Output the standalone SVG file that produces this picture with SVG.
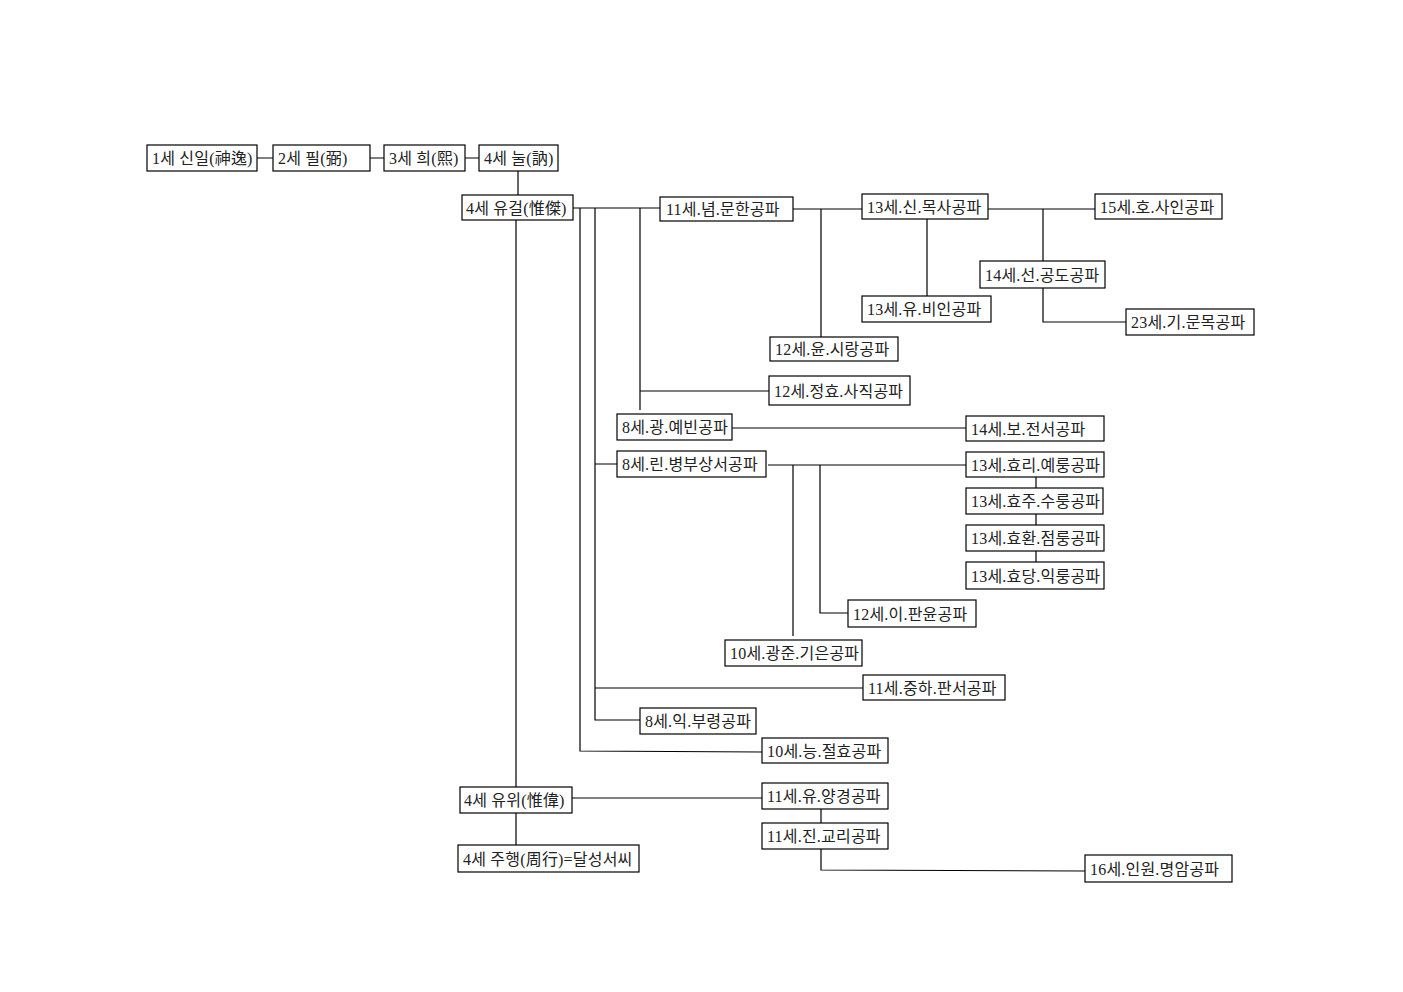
<svg xmlns="http://www.w3.org/2000/svg" width="1403" height="992" viewBox="0 0 1403 992">
<style>
rect{fill:#fff;stroke:#000;stroke-width:1.2}
text{font-family:"Liberation Serif","Noto Sans CJK KR",serif;font-size:16px;letter-spacing:0.2px;fill:#222}
#connectors path{fill:none;stroke:#000;stroke-width:1.2}
</style>
<rect x="0" y="0" width="1403" height="992" style="fill:#fff;stroke:none"/>
<g id="connectors">
<path d="M257 158H273M370 158H384M465 158H479M518 171V195"/>
<path d="M516 220V787M516 813V845"/>
<path d="M573 208H660M580 208V751L762 752M595 208V720H640M595 688H863M595 464H617M640 208V410M640 391H769"/>
<path d="M793 209H862M821 209V337M927 219V296M988 209H1095M1043 209V261M1043 288V322H1126"/>
<path d="M732 428H966M768 465H966M793 465V636M820 465V613H848"/>
<path d="M1036 477V488M1036 514V525M1036 551V562"/>
<path d="M572 798H762M821 809V823M821 849V870L1085 871"/>
</g>
<g id="n1"><rect x="147" y="145" width="110" height="26"/><text x="152" y="164">1세 신일(神逸)</text></g>
<g id="n2"><rect x="273" y="145" width="97" height="26"/><text x="278" y="164">2세 필(弼)</text></g>
<g id="n3"><rect x="384" y="145" width="81" height="26"/><text x="389" y="164">3세 희(熙)</text></g>
<g id="n4"><rect x="479" y="145" width="79" height="26"/><text x="484" y="164">4세 눌(訥)</text></g>
<g id="n5"><rect x="462" y="195" width="111" height="25"/><text x="466" y="214">4세 유걸(惟傑)</text></g>
<g id="n6"><rect x="660" y="197" width="133" height="24"/><text x="666" y="215">11세.념.문한공파</text></g>
<g id="n7"><rect x="862" y="194" width="126" height="25"/><text x="867" y="213">13세.신.목사공파</text></g>
<g id="n8"><rect x="1095" y="194" width="127" height="25"/><text x="1100" y="213">15세.호.사인공파</text></g>
<g id="n9"><rect x="980" y="261" width="125" height="27"/><text x="985" y="281">14세.선.공도공파</text></g>
<g id="n10"><rect x="862" y="296" width="129" height="26"/><text x="867" y="315">13세.유.비인공파</text></g>
<g id="n11"><rect x="1126" y="309" width="128" height="26"/><text x="1131" y="328">23세.기.문목공파</text></g>
<g id="n12"><rect x="770" y="337" width="128" height="24"/><text x="775" y="355">12세.윤.시랑공파</text></g>
<g id="n13"><rect x="769" y="376" width="141" height="29"/><text x="774" y="397">12세.정효.사직공파</text></g>
<g id="n14"><rect x="617" y="414" width="115" height="26"/><text x="622" y="433">8세.광.예빈공파</text></g>
<g id="n15"><rect x="966" y="416" width="138" height="25"/><text x="971" y="435">14세.보.전서공파</text></g>
<g id="n16"><rect x="617" y="451" width="149" height="26"/><text x="622" y="470">8세.린.병부상서공파</text></g>
<g id="n17"><rect x="966" y="452" width="138" height="25"/><text x="971" y="471">13세.효리.예룽공파</text></g>
<g id="n18"><rect x="966" y="488" width="137" height="26"/><text x="971" y="507">13세.효주.수룽공파</text></g>
<g id="n19"><rect x="966" y="525" width="138" height="26"/><text x="971" y="544">13세.효환.점룽공파</text></g>
<g id="n20"><rect x="966" y="562" width="138" height="27"/><text x="971" y="582">13세.효당.익룽공파</text></g>
<g id="n21"><rect x="848" y="600" width="128" height="27"/><text x="853" y="620">12세.이.판윤공파</text></g>
<g id="n22"><rect x="725" y="640" width="137" height="26"/><text x="730" y="659">10세.광준.기은공파</text></g>
<g id="n23"><rect x="863" y="675" width="142" height="25"/><text x="868" y="694">11세.중하.판서공파</text></g>
<g id="n24"><rect x="640" y="708" width="116" height="26"/><text x="645" y="727">8세.익.부령공파</text></g>
<g id="n25"><rect x="762" y="738" width="126" height="25"/><text x="767" y="757">10세.능.절효공파</text></g>
<g id="n26"><rect x="460" y="787" width="112" height="26"/><text x="464" y="806">4세 유위(惟偉)</text></g>
<g id="n27"><rect x="762" y="783" width="126" height="26"/><text x="767" y="802">11세.유.양경공파</text></g>
<g id="n28"><rect x="762" y="823" width="126" height="26"/><text x="767" y="842">11세.진.교리공파</text></g>
<g id="n29"><rect x="458" y="845" width="181" height="27"/><text x="463" y="865">4세 주행(周行)=달성서씨</text></g>
<g id="n30"><rect x="1085" y="855" width="147" height="27"/><text x="1090" y="875">16세.인원.명암공파</text></g>
</svg>
